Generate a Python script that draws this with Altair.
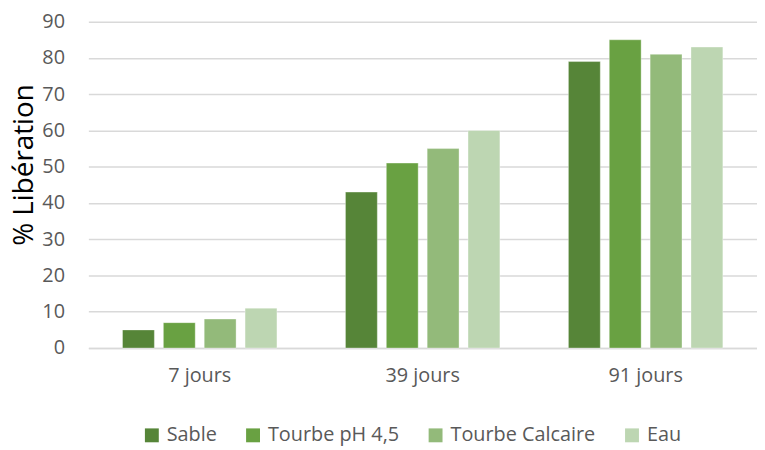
import altair as alt
import pandas as pd

periods = ["7 jours", "39 jours", "91 jours"]
series = ["Sable", "Tourbe pH 4,5", "Tourbe Calcaire", "Eau"]
sable = [5, 43, 79]
tourbe_ph = [7, 51, 85]
tourbe_calc = [8, 55, 81]
eau = [11, 60, 83]
colors = ["#568538", "#69a142", "#93ba7a", "#bdd6b2"]

rows = []
for vals, s in zip([sable, tourbe_ph, tourbe_calc, eau], series):
    for p, v in zip(periods, vals):
        rows.append({"Période": p, "Série": s, "Valeur": v})
df = pd.DataFrame(rows)

FONT = "Open Sans"

chart = alt.Chart(df).mark_bar(stroke="#ffffff", strokeWidth=1, strokeOpacity=0.35).encode(
    x=alt.X("Période:N", sort=periods, title=None,
            scale=alt.Scale(paddingInner=0.267, paddingOuter=0.133),
            axis=alt.Axis(labelAngle=0, labelFontSize=20, labelColor="#595959",
                          labelFont=FONT, labelPadding=18, ticks=False,
                          domainColor="#d9d9d9", domainWidth=1.5, grid=False)),
    xOffset=alt.XOffset("Série:N", sort=series,
                        scale=alt.Scale(paddingInner=0.22, paddingOuter=0.11)),
    y=alt.Y("Valeur:Q", title="% Libération",
            scale=alt.Scale(domain=[0, 90], nice=False),
            axis=alt.Axis(values=list(range(0, 91, 10)), labelFontSize=20,
                          labelColor="#595959", labelFont=FONT, labelPadding=24,
                          ticks=False, domain=False, gridColor="#d9d9d9",
                          gridWidth=1.5, titleFontSize=28, titleFont=FONT,
                          titleColor="#000000", titleFontWeight="normal",
                          titleBaseline="alphabetic", titleX=-56, titleY=144)),
    color=alt.Color("Série:N", sort=series,
                    scale=alt.Scale(domain=series, range=colors),
                    legend=alt.Legend(title=None, orient="none", direction="horizontal",
                                      legendX=54, legendY=407, symbolType="square",
                                      symbolSize=196, symbolStrokeWidth=0,
                                      labelFontSize=20, labelFont=FONT,
                                      labelColor="#595959", columnPadding=26,
                                      labelOffset=5, columns=4)),
).properties(
    width=674, height=329,
    autosize=alt.AutoSizeParams(type="none"),
    padding={"left": 81, "top": 12, "right": 0, "bottom": 100},
).configure_view(stroke=None)

chart.save("out.html", embed_options={"renderer": "svg", "actions": False})
